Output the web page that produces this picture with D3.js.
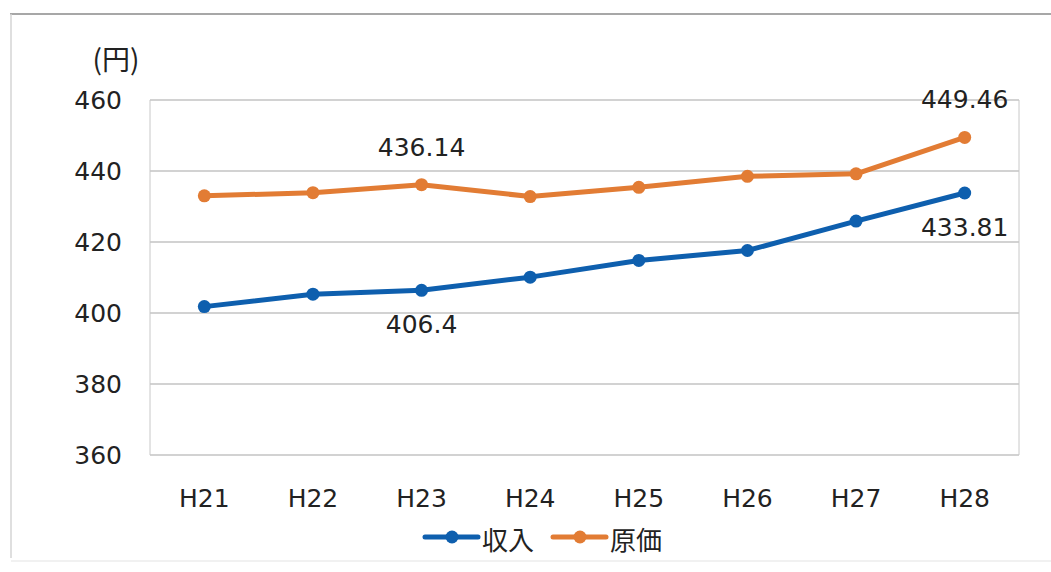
<!DOCTYPE html>
<html>
<head>
<meta charset="utf-8">
<script src="https://cdn.jsdelivr.net/npm/d3@7"></script>
<style>
  html, body { margin: 0; padding: 0; background: #fff; }
  svg { display: block; }
  text { font-family: "DejaVu Sans", Verdana, sans-serif; fill: #222; }
  .cjk { font-family: "Noto Sans CJK JP", "Noto Sans", sans-serif; }
</style>
</head>
<body>
<svg id="chart" width="1051" height="572"></svg>
<script>
// Fiscal years (Heisei)
const categories = ["H21", "H22", "H23", "H24", "H25", "H26", "H27", "H28"];
// 収入 (revenue per unit, yen)
const revenue = [401.8, 405.3, 406.4, 410.1, 414.8, 417.6, 425.9, 433.81];
// 原価 (cost per unit, yen)
const cost = [433.0, 433.9, 436.14, 432.8, 435.4, 438.5, 439.2, 449.46];
const yTicks = [360, 380, 400, 420, 440, 460];
const seriesNames = ["収入", "原価"];
const seriesColors = ["#0e5fae", "#e27c34"];
// Values called out on the chart: [series index, category index, above?]
const callouts = [
  [1, 2, true], [0, 2, false], [1, 7, true], [0, 7, false]
];

const svg = d3.select("#chart");
const plot = { left: 150, right: 1019, top: 100, bottom: 455 };

// Outer frame
svg.append("line").attr("x1", 10).attr("x2", 1051).attr("y1", 14).attr("y2", 14)
  .attr("stroke", "#8a8a8a").attr("stroke-width", 1.5);
svg.append("line").attr("x1", 11).attr("x2", 11).attr("y1", 14).attr("y2", 558)
  .attr("stroke", "#d4d4d4").attr("stroke-width", 1.5);
svg.append("line").attr("x1", 11).attr("x2", 1051).attr("y1", 561).attr("y2", 561)
  .attr("stroke", "#ececec").attr("stroke-width", 1.5);

const x = d3.scaleBand().domain(categories).range([plot.left, plot.right]);
const y = d3.scaleLinear().domain([360, 460]).range([plot.bottom, plot.top]);

// Gridlines
svg.append("g").selectAll("line").data(yTicks).join("line")
  .attr("x1", plot.left).attr("x2", plot.right)
  .attr("y1", d => y(d)).attr("y2", d => y(d))
  .attr("stroke", "#a6a6a6").attr("stroke-width", 1.2);

// Plot-area sides
svg.append("line").attr("x1", plot.left).attr("x2", plot.left)
  .attr("y1", plot.top).attr("y2", plot.bottom).attr("stroke", "#c8c8c8");
svg.append("line").attr("x1", plot.right).attr("x2", plot.right)
  .attr("y1", plot.top).attr("y2", plot.bottom).attr("stroke", "#c8c8c8");

// Y axis labels
const yAxis = d3.axisLeft(y).tickValues(yTicks).tickSize(0).tickPadding(28);
const gy = svg.append("g").attr("transform", `translate(${plot.left},0)`).call(yAxis);
gy.select(".domain").remove();
gy.selectAll("text").attr("font-size", 25).attr("fill", "#222")
  .attr("font-family", "DejaVu Sans, Verdana, sans-serif");

// X axis labels
const xAxis = d3.axisBottom(x).tickSize(0).tickPadding(34);
const gx = svg.append("g").attr("transform", `translate(0,${plot.bottom})`).call(xAxis);
gx.select(".domain").remove();
gx.selectAll("text").attr("font-size", 25).attr("fill", "#222")
  .attr("font-family", "DejaVu Sans, Verdana, sans-serif");

// Unit label
svg.append("text").attr("class", "cjk").attr("x", 116).attr("y", 70)
  .attr("text-anchor", "middle").attr("font-size", 28).text("(円)");

// Lines and markers
const seriesData = [revenue, cost];
const cx = d => x(d) + x.bandwidth() / 2;
const line = d3.line().x((d, i) => cx(categories[i])).y(d => y(d));
seriesData.forEach((vals, s) => {
  svg.append("path").datum(vals).attr("d", line)
    .attr("fill", "none").attr("stroke", seriesColors[s])
    .attr("stroke-width", 5).attr("stroke-linejoin", "round");
  svg.append("g").selectAll("circle").data(vals).join("circle")
    .attr("cx", (d, i) => cx(categories[i])).attr("cy", d => y(d))
    .attr("r", 6.5).attr("fill", seriesColors[s]);
});

// Value callouts
callouts.forEach(([s, i, above]) => {
  const v = seriesData[s][i];
  svg.append("text")
    .attr("x", cx(categories[i]))
    .attr("y", above ? y(v) - 29 : y(v) + 43)
    .attr("text-anchor", "middle").attr("font-size", 25).attr("fill", "#222")
    .text(String(v));
});

// Legend
const legend = [
  { name: seriesNames[0], color: seriesColors[0], x0: 425 },
  { name: seriesNames[1], color: seriesColors[1], x0: 553 }
];
legend.forEach(l => {
  const g = svg.append("g");
  g.append("line").attr("x1", l.x0).attr("x2", l.x0 + 53)
    .attr("y1", 537).attr("y2", 537).attr("stroke", l.color)
    .attr("stroke-width", 5).attr("stroke-linecap", "round");
  g.append("circle").attr("cx", l.x0 + 27).attr("cy", 537).attr("r", 6.5).attr("fill", l.color);
  g.append("text").attr("class", "cjk").attr("x", l.x0 + 57).attr("y", 550)
    .attr("font-size", 26).text(l.name);
});
</script>
</body>
</html>
